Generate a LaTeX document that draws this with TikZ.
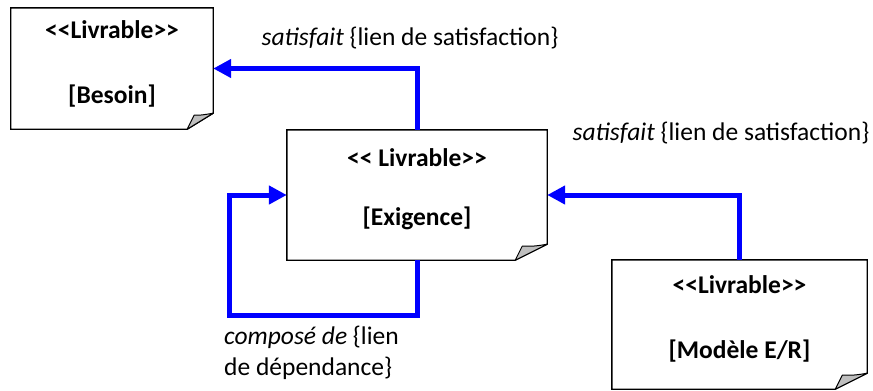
\documentclass[tikz,border=0pt]{standalone}
\usepackage{fontspec}
\setmainfont{Carlito}
\usetikzlibrary{arrows.meta}
\newcommand\docoutline[2]{%
  \draw[line width=1.4bp, line join=miter] (#1.north west) -- (#1.north east) -- ([yshift=16bp]#1.south east)
     -- ([xshift=-#2bp]#1.south east) -- (#1.south west) -- cycle;
  \draw[line width=1bp, fill=lightgray, line join=round] ([xshift=-#2bp]#1.south east)
     -- ([xshift=-#2bp+7bp,yshift=14bp]#1.south east)
     .. controls ([xshift=-12bp,yshift=14bp]#1.south east) .. ([yshift=16bp]#1.south east) -- cycle;}
\newcommand\doctext[4]{\raisebox{#1}[\height][\depth]{\begin{tabular}{@{}c@{}}#3\\[#2]#4\end{tabular}}}
\begin{document}
\begin{tikzpicture}[x=1bp,y=-1bp,
  doc/.style={inner sep=0pt, font=\bfseries\fontsize{25.5bp}{30bp}\selectfont},
  lbl/.style={inner sep=0pt, font=\fontsize{25.5bp}{31bp}\selectfont},
  link/.style={draw=blue, line width=5bp, line join=miter, -{Triangle[length=18bp,width=18bp]}}]
\useasboundingbox (0,0) rectangle (873,390);
\node[doc, minimum width=202bp, minimum height=121bp] (bes) at (112,68.5)
  {\doctext{4bp}{35bp}{<{}<Livrable>{}>}{[Besoin]}};
\node[doc, minimum width=260bp, minimum height=130bp] (exi) at (417,195)
  {\doctext{5.5bp}{29bp}{<{}< Livrable>{}>}{[Exigence]}};
\node[doc, minimum width=255bp, minimum height=129bp] (mod) at (739.5,324.5)
  {\doctext{4.5bp}{35bp}{<{}<Livrable>{}>}{[Modèle E/R]}};
\docoutline{bes}{26}
\docoutline{exi}{32}
\docoutline{mod}{32}
\node[lbl] (l1) at (410,38) {\textit{satisfait} \{lien de satisfaction\}};
\node[lbl] (l2) at (721,133) {\textit{satisfait} \{lien de satisfaction\}};
\node[lbl, anchor=north west, align=left] (l3) at (224,326) {\textit{composé de} \{lien\\de dépendance\}};
\draw[link] (exi.north) |- (bes.east);
\draw[link] (mod.north) |- (exi.east);
\coordinate (lp) at ([xshift=-57bp]exi.west);
\draw[link] (exi.south) -- ++(0,55) -| (lp) -- (exi.west);
\end{tikzpicture}
\end{document}
